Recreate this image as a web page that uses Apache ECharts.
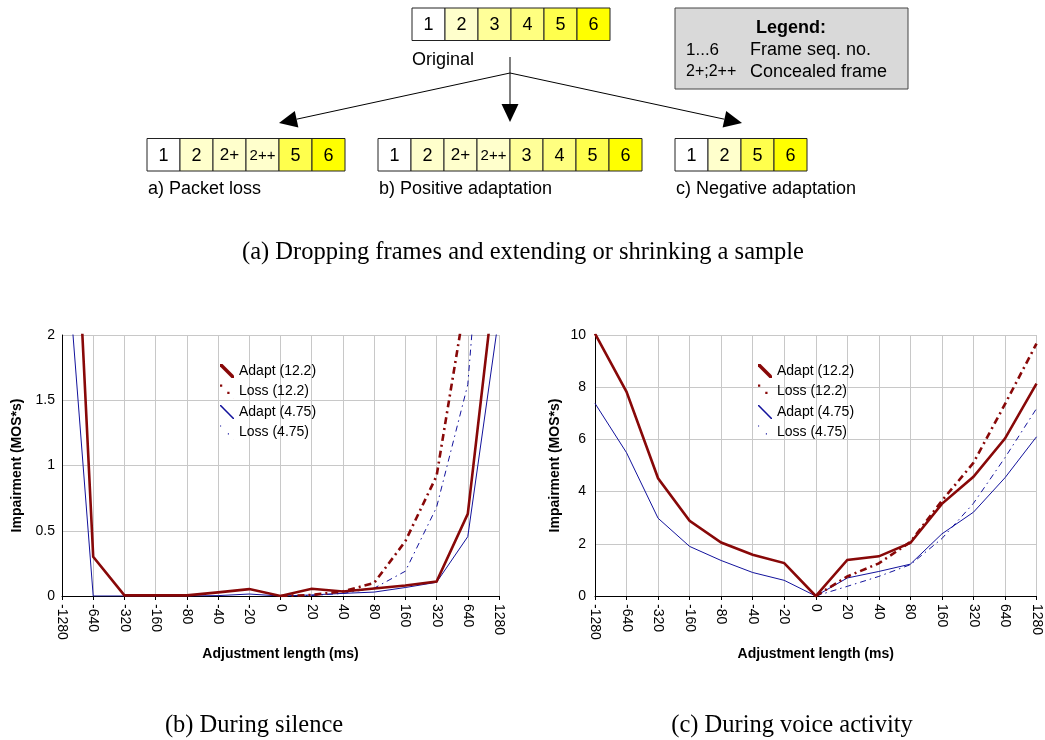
<!DOCTYPE html>
<html>
<head>
<meta charset="utf-8">
<script src="https://cdn.jsdelivr.net/npm/echarts@6/dist/echarts.min.js"></script>
<style>
html,body{margin:0;padding:0;background:#fff;}
#chart{width:1045px;height:740px;}
</style>
</head>
<body>
<div id="chart"></div>
<script>
// ---------- data ----------
var categories = ['-1280','-640','-320','-160','-80','-40','-20','0','20','40','80','160','320','640','1280'];

// (b) During silence
var silenceAdapt122 = [5.2, 0.30, 0.005, 0.005, 0.005, 0.028, 0.053, 0, 0.056, 0.035, 0.058, 0.08, 0.11, 0.63, 2.7];
var silenceLoss122  = [null, null, null, null, null, null, null, 0, 0.008, 0.035, 0.10, 0.42, 0.92, 2.37, 4.0];
var silenceAdapt475 = [3.09, 0, 0, 0, 0, 0.003, 0.015, 0, 0.008, 0.02, 0.03, 0.065, 0.105, 0.455, 2.15];
var silenceLoss475  = [null, null, null, null, null, null, null, 0, 0.004, 0.02, 0.06, 0.19, 0.68, 1.62, 4.6];

// (c) During voice activity
var voiceAdapt122 = [10.05, 7.82, 4.51, 2.88, 2.05, 1.58, 1.26, 0, 1.38, 1.52, 2.03, 3.53, 4.57, 6.03, 8.14];
var voiceLoss122  = [null, null, null, null, null, null, null, 0, 0.75, 1.25, 2.07, 3.65, 5.1, 7.35, 9.67];
var voiceAdapt475 = [7.38, 5.49, 2.98, 1.9, 1.36, 0.9, 0.6, 0, 0.69, 0.94, 1.22, 2.38, 3.21, 4.53, 6.1];
var voiceLoss475  = [null, null, null, null, null, null, null, 0, 0.37, 0.75, 1.2, 2.2, 3.55, 5.3, 7.18];

var seriesNames = ['Adapt (12.2)', 'Loss (12.2)', 'Adapt (4.75)', 'Loss (4.75)'];

// diagram frame sequences
var seqOriginal = ['1','2','3','4','5','6'];
var seqLoss     = ['1','2','2+','2++','5','6'];
var seqPositive = ['1','2','2+','2++','3','4','5','6'];
var seqNegative = ['1','2','5','6'];
var diagramLabels = ['Original', 'a) Packet loss', 'b) Positive adaptation', 'c) Negative adaptation'];
var legendBoxTitle = 'Legend:';
var legendBoxRows = [['1...6', 'Frame seq. no.'], ['2+;2++', 'Concealed frame']];
var captions = ['(a) Dropping frames and extending or shrinking a sample', '(b) During silence', '(c) During voice activity'];

// ---------- styles ----------
var RED = '#880808', BLUE = '#12129c';
var SANS = '"Liberation Sans", Arial, Helvetica, sans-serif';
var SERIF = '"Liberation Serif", "Times New Roman", serif';
var frameColor = {'1':'#ffffff','2':'#ffffcc','2+':'#ffffcc','2++':'#ffffcc','3':'#ffff99','4':'#ffff80','5':'#ffff4d','6':'#ffff00'};

var graphics = [];
function addRow(seq, x0, y0) {
  var w = 33, h = 32.5;
  seq.forEach(function (lab, i) {
    graphics.push({type:'rect', silent:true, shape:{x:x0 + i*w, y:y0, width:w, height:h},
      style:{fill:frameColor[lab], stroke:'#222', lineWidth:1}});
    graphics.push({type:'text', silent:true, style:{text:lab, x:x0 + i*w + w/2, y:y0 + h/2 + 1,
      font:(lab.length > 2 ? '15px ' : (lab.length > 1 ? '17px ' : '18px ')) + SANS,
      fill:'#000', align:'center', verticalAlign:'middle', textAlign:'center', textVerticalAlign:'middle'}});
  });
}
function addText(t, x, y, font, align) {
  graphics.push({type:'text', silent:true, style:{text:t, x:x, y:y, font:font, fill:'#000',
    align:align || 'left', verticalAlign:'middle', textAlign:align || 'left', textVerticalAlign:'middle'}});
}
function addArrow(sx, sy, tx, ty) {
  var dx = tx - sx, dy = ty - sy, len = Math.sqrt(dx*dx + dy*dy);
  var ux = dx/len, uy = dy/len, L = 18, W = 8.5;
  var bx = tx - ux*L, by = ty - uy*L, px = -uy, py = ux;
  graphics.push({type:'line', silent:true, shape:{x1:sx, y1:sy, x2:bx, y2:by}, style:{stroke:'#000', lineWidth:1}});
  graphics.push({type:'polygon', silent:true, shape:{points:[[tx,ty],[bx+px*W,by+py*W],[bx-px*W,by-py*W]]}, style:{fill:'#000'}});
}

addRow(seqOriginal, 412, 8);
addRow(seqLoss, 147, 138.5);
addRow(seqPositive, 378, 138.5);
addRow(seqNegative, 675, 138.5);
addText(diagramLabels[0], 412, 60, '18px ' + SANS);
addText(diagramLabels[1], 148, 189, '18px ' + SANS);
addText(diagramLabels[2], 379, 189, '18px ' + SANS);
addText(diagramLabels[3], 676, 189, '18px ' + SANS);
addArrow(510, 57, 510, 122);
addArrow(510, 73, 279, 123);
addArrow(510, 73, 742, 123);
graphics.push({type:'rect', silent:true, shape:{x:675, y:8, width:233, height:81}, style:{fill:'#d9d9d9', stroke:'#444', lineWidth:1}});
addText(legendBoxTitle, 791, 28, 'bold 18px ' + SANS, 'center');
addText(legendBoxRows[0][0], 686, 50, '17px ' + SANS);
addText(legendBoxRows[0][1], 750, 50, '18px ' + SANS);
addText(legendBoxRows[1][0], 686, 72, '16px ' + SANS);
addText(legendBoxRows[1][1], 750, 72, '18px ' + SANS);
addText(captions[0], 523, 253, '24.5px ' + SERIF, 'center');
addText(captions[1], 254, 726, '24.5px ' + SERIF, 'center');
addText(captions[2], 792, 726, '24.5px ' + SERIF, 'center');

// ---------- chart ----------
var iconAdaptThick = 'path://M0,0L1.8,0L10,8.2L10,10L8.2,10L0,1.8Z';
var iconAdaptThin  = 'path://M0,0L0.8,0L10,9.2L10,10L9.2,10L0,0.8Z';
var iconLossThick  = 'path://M0,0L1.6,0L1.6,1.6L0,1.6Z M5.2,5.2L6.8,5.2L6.8,6.8L5.2,6.8Z M9.9,9.9L10,9.9L10,10L9.9,10Z';
var iconLossThin   = 'path://M0,0L0.8,0L0.8,0.8L0,0.8Z M5.6,5.6L6.4,5.6L6.4,6.4L5.6,6.4Z M9.9,9.9L10,9.9L10,10L9.9,10Z';
var styles = [
  {color:RED,  width:2.6, type:'solid', icon:iconAdaptThick},
  {color:RED,  width:2.6, type:[7,4,2,4], icon:iconLossThick},
  {color:BLUE, width:1,   type:'solid', icon:iconAdaptThin},
  {color:BLUE, width:1,   type:[6,4,1.5,4], icon:iconLossThin}
];

function legendFor(left) {
  return {
    orient:'vertical', left:left, top:364, padding:0, itemWidth:14, itemHeight:14, itemGap:6.5, itemStyle:{borderWidth:0},
    selectedMode:false,
    textStyle:{fontFamily:SANS, fontSize:14, color:'#000'},
    data: seriesNames.map(function (n, i) { return {name:n, icon:styles[i].icon, itemStyle:{color:styles[i].color, borderWidth:0}}; })
  };
}
function xAxisFor(gi) {
  return {
    type:'category', gridIndex:gi, data:categories, boundaryGap:false,
    name:'Adjustment length (ms)', nameLocation:'middle', nameGap:51,
    nameTextStyle:{fontFamily:SANS, fontSize:14, fontWeight:'bold', color:'#000'},
    axisLine:{lineStyle:{color:'#000', width:1}},
    axisTick:{show:true, length:4, interval:0, lineStyle:{color:'#000'}},
    axisLabel:{rotate:-90, interval:0, margin:8, fontFamily:SANS, fontSize:14, color:'#000'},
    splitLine:{show:true, interval:0, lineStyle:{color:'#c8c8c8', width:1}}
  };
}
function yAxisFor(gi, max, interval, gap, margin) {
  return {
    type:'value', gridIndex:gi, min:0, max:max, interval:interval,
    name:'Impairment (MOS*s)', nameLocation:'middle', nameGap:gap,
    nameTextStyle:{fontFamily:SANS, fontSize:14, fontWeight:'bold', color:'#000'},
    axisLine:{show:true, lineStyle:{color:'#000', width:1}},
    axisTick:{show:false},
    axisLabel:{margin:margin, fontFamily:SANS, fontSize:14, color:'#000'},
    splitLine:{show:true, lineStyle:{color:'#c8c8c8', width:1}}
  };
}
function makeSeries(gi, arrays) {
  return arrays.map(function (arr, i) {
    return {
      name:seriesNames[i], type:'line', xAxisIndex:gi, yAxisIndex:gi, data:arr,
      symbol:'none', showSymbol:false, connectNulls:false, clip:true, silent:true,
      itemStyle:{color:styles[i].color},
      lineStyle:{color:styles[i].color, width:styles[i].width, type:styles[i].type, cap:'butt', join:'miter'},
      z: 10 - i
    };
  });
}

var chart = echarts.init(document.getElementById('chart'), null, {renderer:'canvas'});
chart.setOption({
  animation:false,
  backgroundColor:'#ffffff',
  grid:[
    {left:62, top:335, width:437, height:261, containLabel:false},
    {left:595, top:335, width:441.5, height:261, containLabel:false}
  ],
  legend:[legendFor(220), legendFor(758)],
  xAxis:[xAxisFor(0), xAxisFor(1)],
  yAxis:[yAxisFor(0, 2, 0.5, 38, 7), yAxisFor(1, 10, 2, 33, 9)],
  series: makeSeries(0, [silenceAdapt122, silenceLoss122, silenceAdapt475, silenceLoss475])
    .concat(makeSeries(1, [voiceAdapt122, voiceLoss122, voiceAdapt475, voiceLoss475])),
  graphic:{elements:graphics}
});
</script>
</body>
</html>
